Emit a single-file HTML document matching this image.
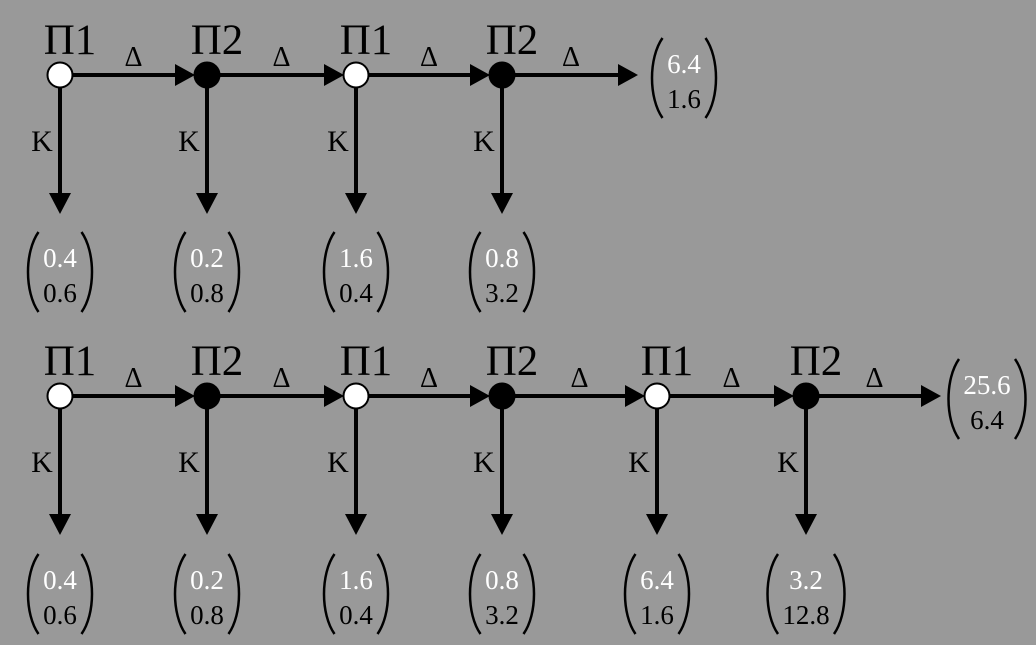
<!DOCTYPE html>
<html><head><meta charset="utf-8"><style>
body{margin:0;background:#999;}
svg{display:block;font-family:"Liberation Serif","DejaVu Serif",serif;}
</style></head><body>
<svg id="s" width="1036" height="645" xmlns="http://www.w3.org/2000/svg">
<rect width="1036" height="645" fill="#999"/>
</svg>
<script>
const s=document.getElementById('s');let h='';
function row(y,xs,vecs,endX,endVec,vy){
  xs.forEach((x,i)=>{
    h+=`<text x="${x+10}" y="${y-21}" font-size="43" text-anchor="middle">${i%2?'П2':'П1'}</text>`;
    const nx = i<xs.length-1?xs[i+1]:endX;
    const tip = i<xs.length-1?nx-12:nx-2;
    h+=`<line x1="${x}" y1="${y}" x2="${tip-16}" y2="${y}" stroke="#000" stroke-width="4"/>`;
    h+=`<polygon points="${tip-20},${y-11} ${tip},${y} ${tip-20},${y+11}" fill="#000"/>`;
    h+=`<text x="${(x+nx)/2}" y="${y-9}" font-size="28" text-anchor="middle">Δ</text>`;
    h+=`<line x1="${x}" y1="${y}" x2="${x}" y2="${y+120}" stroke="#000" stroke-width="4"/>`;
    h+=`<polygon points="${x-11},${y+118} ${x+11},${y+118} ${x},${y+139}" fill="#000"/>`;
    h+=`<text x="${x-18}" y="${y+76}" font-size="30" text-anchor="middle">K</text>`;
    vec(x,vy,vecs[i]);
  });
  vec(endX+44,y-37,endVec);
  xs.forEach((x,i)=>{
    h+=`<circle cx="${x}" cy="${y}" r="12.5" fill="${i%2?'#000':'#fff'}" stroke="#000" stroke-width="2"/>`;
  });
}
function vec(cx,top,v){
  const w=Math.max(v[0].length,v[1].length)*13;
  const l=cx-w/2-8,r=cx+w/2+8,b=top+80;
  h+=`<path d="M${l+6},${top} C${l-8},${top+20} ${l-8},${b-20} ${l+6},${b}" fill="none" stroke="#000" stroke-width="2.5"/>`;
  h+=`<path d="M${r-6},${top} C${r+8},${top+20} ${r+8},${b-20} ${r-6},${b}" fill="none" stroke="#000" stroke-width="2.5"/>`;
  h+=`<text x="${cx}" y="${top+35}" font-size="27" fill="#fff" text-anchor="middle">${v[0]}</text>`;
  h+=`<text x="${cx}" y="${top+70}" font-size="27" text-anchor="middle">${v[1]}</text>`;
}
const v=[["0.4","0.6"],["0.2","0.8"],["1.6","0.4"],["0.8","3.2"],["6.4","1.6"],["3.2","12.8"]];
row(75,[60,207,356,502],v.slice(0,4),640,["6.4","1.6"],232);
row(396,[60,207,356,502,657,806],v,943,["25.6","6.4"],554);
s.innerHTML+=h;
</script>
</body></html>
